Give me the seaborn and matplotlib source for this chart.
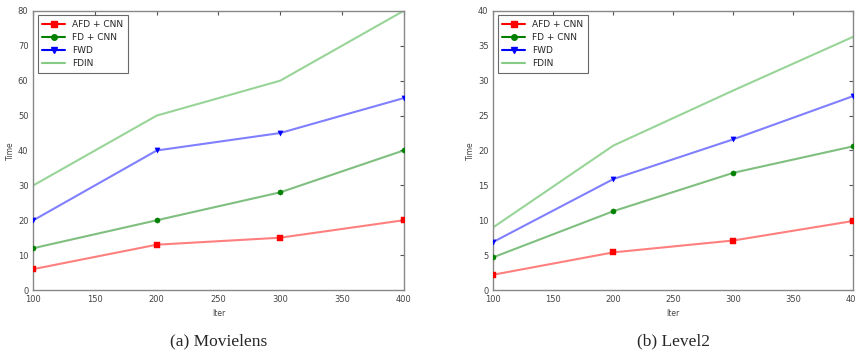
import pandas as pd
import seaborn as sns
import matplotlib.pyplot as plt

# Iterations on the x axis
iters = [100, 200, 300, 400]
series_names = ["AFD + CNN", "FD + CNN", "FWD", "FDIN"]

# (a) Movielens
movielens_afd = [6, 13, 15, 20]
movielens_fd = [12, 20, 28, 40]
movielens_fwd = [20, 40, 45, 55]
movielens_fdin = [30, 50, 60, 80]

# (b) Level2
level2_afd = [2.2, 5.4, 7.1, 9.9]
level2_fd = [4.7, 11.3, 16.8, 20.6]
level2_fwd = [6.9, 15.9, 21.6, 27.8]
level2_fdin = [9.0, 20.7, 28.6, 36.3]

colors = {"AFD + CNN": "red", "FD + CNN": "green", "FWD": "blue", "FDIN": "#33aa33"}
markers = {"AFD + CNN": "s", "FD + CNN": "o", "FWD": "v", "FDIN": ""}
marker_sizes = {"AFD + CNN": 4, "FD + CNN": 4, "FWD": 4, "FDIN": 0}


def make_frame(values):
    rows = []
    for name, vals in zip(series_names, values):
        for x, y in zip(iters, vals):
            rows.append({"Iter": x, "Time": y, "method": name})
    return pd.DataFrame(rows)


sns.set_style("white")
plt.rcParams["font.family"] = ["DejaVu Sans"]

fig = plt.figure(figsize=(8.55, 3.52), dpi=100)
ax1 = fig.add_axes([0.039, 0.176, 0.433, 0.793])
ax2 = fig.add_axes([0.577, 0.176, 0.421, 0.793])

panels = [
    (ax1, [movielens_afd, movielens_fd, movielens_fwd, movielens_fdin], 80, 10, "(a) Movielens"),
    (ax2, [level2_afd, level2_fd, level2_fwd, level2_fdin], 40, 5, "(b) Level2"),
]

for ax, values, ymax, ystep, caption in panels:
    df = make_frame(values)
    for name in series_names:
        sub = df[df["method"] == name]
        # line drawn faint, markers opaque on top
        sns.lineplot(data=sub, x="Iter", y="Time", ax=ax, color=colors[name],
                     alpha=0.5, lw=1.5, legend=False)
        if markers[name]:
            sns.scatterplot(data=sub, x="Iter", y="Time", ax=ax, color=colors[name],
                            marker=markers[name], s=14, edgecolor=colors[name],
                            legend=False, zorder=3)
    # legend handles
    handles = []
    for name in series_names:
        h, = ax.plot([], [], color=colors[name], marker=markers[name] or None,
                     ms=marker_sizes[name], lw=1.5, alpha=0.6 if name == "FDIN" else 1.0,
                     label=name)
        handles.append(h)
    leg = ax.legend(handles=handles, loc="upper left", fontsize=6.5, frameon=True,
                    fancybox=False, borderpad=0.5, handlelength=2.5, labelspacing=0.45)
    leg.get_frame().set_edgecolor("#444444")
    leg.get_frame().set_linewidth(0.8)

    ax.set_xlim(100, 400)
    ax.set_ylim(0, ymax)
    ax.set_xticks(range(100, 401, 50))
    ax.set_yticks(range(0, ymax + 1, ystep))
    ax.tick_params(direction="in", labelsize=6, length=3, top=True, right=True,
                   colors="#555555", labelcolor="#444444")
    ax.set_xlabel("Iter", fontsize=5.5, color="#444444")
    ax.set_ylabel("Time", fontsize=5.5, color="#444444", labelpad=2)
    for sp in ax.spines.values():
        sp.set_color("#888888")
        sp.set_linewidth(1.0)
    ax.text(0.5, -0.155, caption, transform=ax.transAxes, ha="center", va="top",
            fontsize=12.5, family="Liberation Serif")

fig.savefig("out.png", dpi=100)
